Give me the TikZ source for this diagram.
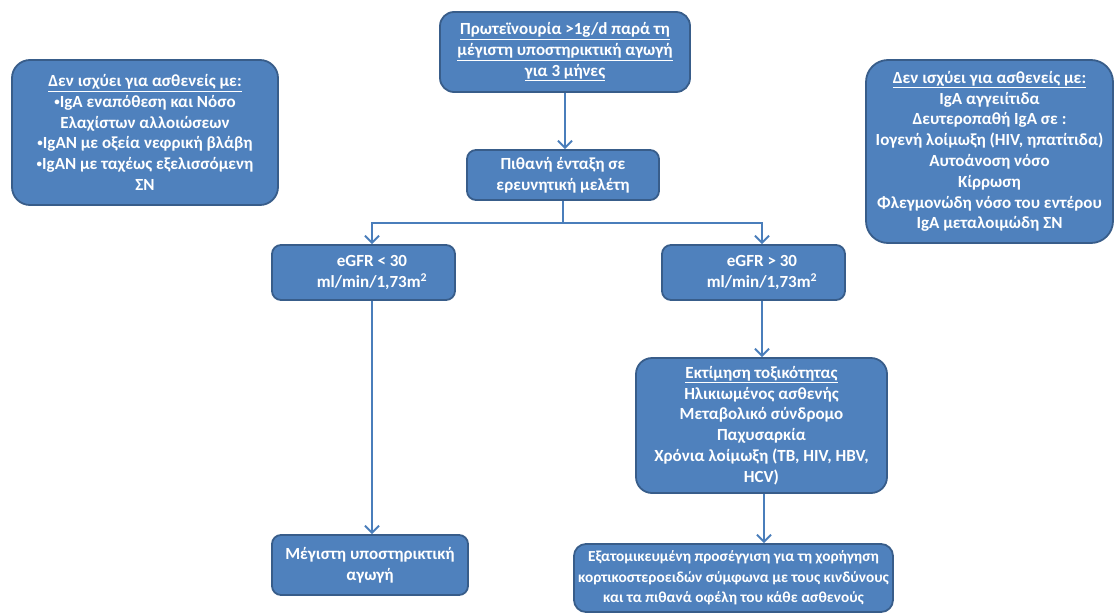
\documentclass[tikz,border=0pt]{standalone}
\usepackage{fontspec}
\setmainfont{Carlito}
\usetikzlibrary{arrows.meta}
\definecolor{boxfill}{HTML}{4F81BD}
\definecolor{boxdraw}{HTML}{385D8A}
\definecolor{linec}{HTML}{4A7EBB}
\newcommand{\smbul}{\raisebox{2pt}{\fontsize{11}{11}\selectfont •}}
\begin{document}
\begin{tikzpicture}[x=1pt,y=-1pt,
  box/.style={draw=boxdraw,line width=1.8pt,fill=boxfill,rounded corners=#1,
    text=white,font=\fontsize{17}{20.8}\selectfont\bfseries,align=center,inner sep=1pt},
  box/.default=14pt,
  conn/.style={draw=linec,line width=2pt},
  arr/.style={conn,-{Straight Barb[length=7pt,width=14pt]}}]
\useasboundingbox (0,0) rectangle (1115,613);
\node[box, minimum width=250pt, minimum height=80pt] (top) at (565,52)
  {\underline{Πρωτεϊνουρία >1g/d παρά τη}\\\underline{μέγιστη υποστηρικτική αγωγή}\\\underline{για 3 μήνες}};
\node[box=18pt, minimum width=266pt, minimum height=145pt] (left) at (145,132.5)
  {\underline{Δεν ισχύει για ασθενείς με:}\\\smbul IgA εναπόθεση και Νόσο\\Ελαχίστων αλλοιώσεων\\\smbul IgAN με οξεία νεφρική βλάβη\\\smbul IgAN με ταχέως εξελισσόμενη\\ΣΝ};
\node[box=22pt, minimum width=247pt, minimum height=183pt] (right) at (989.5,151.5)
  {\underline{Δεν ισχύει για ασθενείς με:}\\IgA αγγειίτιδα\\Δευτεροπαθή IgA σε :\\Ιογενή λοίμωξη (HIV, ηπατίτιδα)\\Αυτοάνοση νόσο\\Κίρρωση\\Φλεγμονώδη νόσο του εντέρου\\IgA μεταλοιμώδη ΣΝ};
\node[box=9pt, minimum width=192pt, minimum height=50pt] (mid) at (563,175)
  {Πιθανή ένταξη σε\\ερευνητική μελέτη};
\node[box=9pt, minimum width=183pt, minimum height=55pt] (lt) at (363.5,272.5)
  {\hspace*{17pt}eGFR < 30\\\hspace*{17pt}ml/min/1,73m\textsuperscript{2}};
\node[box=9pt, minimum width=183pt, minimum height=55pt] (rt) at (753.5,272.5)
  {\hspace*{17pt}eGFR > 30\\\hspace*{17pt}ml/min/1,73m\textsuperscript{2}};
\node[box=16pt, minimum width=251pt, minimum height=135pt] (tox) at (761.5,425.5)
  {\underline{Εκτίμηση τοξικότητας}\\Ηλικιωμένος ασθενής\\Μεταβολικό σύνδρομο\\Παχυσαρκία\\Χρόνια λοίμωξη (TB, HIV, HBV,\\HCV)};
\node[box=9pt, minimum width=196pt, minimum height=60pt] (ml) at (370,565)
  {Μέγιστη υποστηρικτική\\αγωγή};
\node[box=12pt, minimum width=319pt, minimum height=68pt,
  font=\fontsize{15.3}{20.5}\selectfont\bfseries] (br) at (733.5,578)
  {Εξατομικευμένη προσέγγιση για τη χορήγηση\\κορτικοστεροειδών σύμφωνα με τους κινδύνους\\και τα πιθανά οφέλη του κάθε ασθενούς};
\coordinate (xt) at (565,0);
\coordinate (xl) at (372,0);
\coordinate (xr) at (762,0);
\coordinate (xb) at (764,0);
\coordinate (j) at (563,223);
\draw[arr] (xt |- top.south) -- (xt |- mid.north);
\draw[conn] (mid.south) -- (j);
\draw[arr] (j) -| (xl |- lt.north);
\draw[arr] (j) -| (xr |- rt.north);
\draw[arr] (xr |- rt.south) -- (xr |- tox.north);
\draw[arr] (xb |- tox.south) -- (xb |- br.north);
\draw[arr] (xl |- lt.south) -- (xl |- ml.north);
\end{tikzpicture}
\end{document}
